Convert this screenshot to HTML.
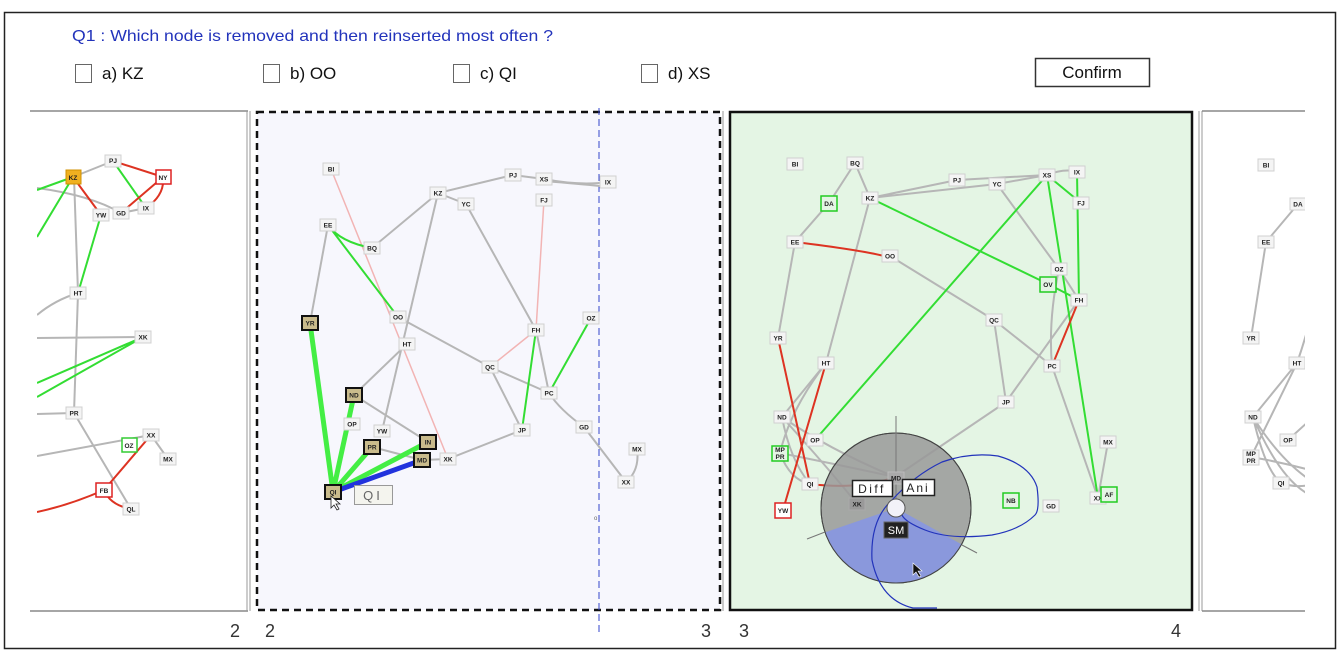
<!DOCTYPE html>
<html><head><meta charset="utf-8">
<style>
html,body{margin:0;padding:0;background:#fff;}
svg{display:block;font-family:"Liberation Sans",sans-serif;}
.n rect{fill:#f4f4f4;stroke:#d0d0d0;stroke-width:1}
.n text{font-size:6.5px;font-weight:bold;text-anchor:middle;fill:#222}
.h rect{fill:#c9bb8c;stroke:#111;stroke-width:2}
.h text{font-size:6.5px;font-weight:bold;text-anchor:middle;fill:#222}
.g{stroke:#b6b6b6;stroke-width:2;fill:none}
.gr{stroke:#33dd33;stroke-width:2;fill:none}
.rd{stroke:#dd3322;stroke-width:2;fill:none}
.pk{stroke:#f2b4b4;stroke-width:1.5;fill:none}
.lbl{font-size:18px;fill:#333}
</style></head><body>
<svg width="1337" height="655" viewBox="0 0 1337 655">
<defs>
<clipPath id="cl"><rect x="37" y="112" width="210" height="498"/></clipPath>
<clipPath id="cr"><rect x="1201" y="112" width="104" height="498"/></clipPath>
</defs>
<rect x="4.5" y="12.5" width="1331" height="636" fill="#fff" stroke="#222" stroke-width="1.5"/>

<!-- header -->
<text x="72" y="41" font-size="16" fill="#2233bb" textLength="481" lengthAdjust="spacingAndGlyphs">Q1 : Which node is removed and then reinserted most often ?</text>
<g font-size="17" fill="#111">
<rect x="75.5" y="64.5" width="16" height="18" fill="#fff" stroke="#666"/><text x="102" y="79">a) KZ</text>
<rect x="263.5" y="64.5" width="16" height="18" fill="#fff" stroke="#666"/><text x="290" y="79">b) OO</text>
<rect x="453.5" y="64.5" width="16" height="18" fill="#fff" stroke="#666"/><text x="480" y="79">c) QI</text>
<rect x="641.5" y="64.5" width="16" height="18" fill="#fff" stroke="#666"/><text x="668" y="79">d) XS</text>
<rect x="1035.5" y="58.5" width="114" height="28" fill="#fff" stroke="#333" stroke-width="1.5"/><text x="1092" y="78" text-anchor="middle">Confirm</text>
</g>

<!-- panel frames -->
<line x1="30" y1="111" x2="248" y2="111" stroke="#888" stroke-width="1.5"/>
<line x1="30" y1="611" x2="248" y2="611" stroke="#888" stroke-width="1.5"/>
<line x1="247" y1="111" x2="247" y2="611" stroke="#999" stroke-width="1"/>
<line x1="250" y1="111" x2="250" y2="611" stroke="#999" stroke-width="1"/>
<rect x="257" y="112" width="463" height="498" fill="#f7f7fd" stroke="#111" stroke-width="2.5" stroke-dasharray="7,5"/>
<line x1="723" y1="111" x2="723" y2="611" stroke="#999" stroke-width="1"/>
<rect x="730" y="112" width="462" height="498" fill="#e4f5e4" stroke="#111" stroke-width="2.5"/>
<line x1="1199" y1="111" x2="1199" y2="611" stroke="#999" stroke-width="1"/>
<line x1="1202" y1="111" x2="1202" y2="611" stroke="#999" stroke-width="1"/>
<line x1="1202" y1="111" x2="1305" y2="111" stroke="#888" stroke-width="1.5"/>
<line x1="1202" y1="611" x2="1305" y2="611" stroke="#888" stroke-width="1.5"/>
<g class="lbl"><text x="230" y="637">2</text><text x="265" y="637">2</text><text x="701" y="637">3</text><text x="739" y="637">3</text><text x="1171" y="637">4</text></g>

<!-- LEFT PANEL -->
<g clip-path="url(#cl)">
<path class="g" d="M37,188 Q90,195 121,213 L146,208"/>
<path class="g" d="M73,177 L113,161"/>
<path class="g" d="M74,177 L78,293 L74,413 L131,509"/>
<path class="g" d="M78,293 Q55,300 37,315"/>
<path class="g" d="M37,338 L143,337"/>
<path class="g" d="M37,414 L74,413"/>
<path class="g" d="M37,456 L151,435 L168,459"/>
<path class="gr" d="M37,190 L73,177 M37,237 L73,177 M101,215 L78,293 M113,161 L146,208 M143,337 L37,383 M143,337 L37,397"/>
<path class="rd" d="M113,161 L163,177 M163,177 L121,213 M163,177 Q165,195 146,208 M73,177 L101,215"/>
<path class="rd" d="M151,435 L104,490 M104,490 Q110,505 131,509 M37,512 Q70,505 104,490"/>
<g class="n">
<g><rect x="66" y="170" width="15" height="14" style="fill:#f0b020;stroke:#d09000"/><text x="73" y="180">KZ</text></g>
<g><rect x="105" y="155" width="16" height="12"/><text x="113" y="163">PJ</text></g>
<g><rect x="156" y="170" width="15" height="14" style="fill:#fff;stroke:#dd2222;stroke-width:1.5"/><text x="163" y="180">NY</text></g>
<g><rect x="93" y="209" width="16" height="12"/><text x="101" y="217.5">YW</text></g>
<g><rect x="113" y="207" width="16" height="12"/><text x="121" y="215.5">GD</text></g>
<g><rect x="138" y="202" width="16" height="12"/><text x="146" y="210.5">IX</text></g>
<g><rect x="70" y="287" width="16" height="12"/><text x="78" y="295.5">HT</text></g>
<g><rect x="135" y="331" width="16" height="12"/><text x="143" y="339.5">XK</text></g>
<g><rect x="66" y="407" width="16" height="12"/><text x="74" y="415.5">PR</text></g>
<g><rect x="143" y="429" width="16" height="12"/><text x="151" y="437.5">XX</text></g>
<g><rect x="122" y="438" width="15" height="14" style="fill:#fff;stroke:#33cc33;stroke-width:1.5"/><text x="129" y="448">OZ</text></g>
<g><rect x="160" y="453" width="16" height="12"/><text x="168" y="461.5">MX</text></g>
<g><rect x="96" y="483" width="16" height="14" style="fill:#fff;stroke:#dd2222;stroke-width:1.5"/><text x="104" y="493">FB</text></g>
<g><rect x="123" y="503" width="16" height="12"/><text x="131" y="511.5">QL</text></g>
</g>
</g>

<!-- MIDDLE PANEL -->
<line x1="599" y1="108" x2="599" y2="632" stroke="#3344cc" stroke-width="1" stroke-dasharray="7,4"/>
<path class="g" d="M328,225 L310,323"/>
<path class="g" d="M372,248 L438,193 L513,175 L544,179 Q580,186 608,182"/>
<path class="g" d="M544,181 Q580,184 600,186"/>
<path class="g" d="M438,193 L382,431"/>
<path class="g" d="M438,193 L466,204 L536,330 L549,393 Q560,410 584,427 L626,482 Q640,470 637,449"/>
<path class="g" d="M398,317 L490,367 L549,393 M490,367 L522,430 L448,459 L422,460"/>
<path class="g" d="M407,344 L354,395 L428,442 M372,447 L422,460"/>
<path class="pk" d="M331,169 L448,459 M544,200 L536,330 L490,367"/>
<path class="gr" d="M328,225 Q340,242 372,248 M328,225 L398,317 M536,330 L522,430 M591,318 L549,393"/>
<path d="M310,323 L333,492 M354,395 L333,492 M372,447 L333,492 M428,442 L333,492" stroke="#44ee44" stroke-width="5" fill="none"/>
<path d="M422,460 L333,492" stroke="#2233dd" stroke-width="5" fill="none"/>
<g class="n">
<g><rect x="323" y="163" width="16" height="12"/><text x="331" y="171.5">BI</text></g>
<g><rect x="505" y="169" width="16" height="12"/><text x="513" y="177.5">PJ</text></g>
<g><rect x="536" y="173" width="16" height="12"/><text x="544" y="181.5">XS</text></g>
<g><rect x="600" y="176" width="16" height="12"/><text x="608" y="184.5">IX</text></g>
<g><rect x="430" y="187" width="16" height="12"/><text x="438" y="195.5">KZ</text></g>
<g><rect x="458" y="198" width="16" height="12"/><text x="466" y="206.5">YC</text></g>
<g><rect x="536" y="194" width="16" height="12"/><text x="544" y="202.5">FJ</text></g>
<g><rect x="320" y="219" width="16" height="12"/><text x="328" y="227.5">EE</text></g>
<g><rect x="364" y="242" width="16" height="12"/><text x="372" y="250.5">BQ</text></g>
<g><rect x="390" y="311" width="16" height="12"/><text x="398" y="319.5">OO</text></g>
<g><rect x="583" y="312" width="16" height="12"/><text x="591" y="320.5">OZ</text></g>
<g><rect x="399" y="338" width="16" height="12"/><text x="407" y="346.5">HT</text></g>
<g><rect x="528" y="324" width="16" height="12"/><text x="536" y="332.5">FH</text></g>
<g><rect x="482" y="361" width="16" height="12"/><text x="490" y="369.5">QC</text></g>
<g><rect x="541" y="387" width="16" height="12"/><text x="549" y="395.5">PC</text></g>
<g><rect x="344" y="418" width="16" height="12"/><text x="352" y="426.5">OP</text></g>
<g><rect x="374" y="425" width="16" height="12"/><text x="382" y="433.5">YW</text></g>
<g><rect x="514" y="424" width="16" height="12"/><text x="522" y="432.5">JP</text></g>
<g><rect x="576" y="421" width="16" height="12"/><text x="584" y="429.5">GD</text></g>
<g><rect x="440" y="453" width="16" height="12"/><text x="448" y="461.5">XK</text></g>
<g><rect x="629" y="443" width="16" height="12"/><text x="637" y="451.5">MX</text></g>
<g><rect x="618" y="476" width="16" height="12"/><text x="626" y="484.5">XX</text></g>
</g>
<g class="h">
<g><rect x="302" y="316" width="16" height="14"/><text x="310" y="325.5">YR</text></g>
<g><rect x="346" y="388" width="16" height="14"/><text x="354" y="397.5">ND</text></g>
<g><rect x="364" y="440" width="16" height="14"/><text x="372" y="449.5">PR</text></g>
<g><rect x="420" y="435" width="16" height="14"/><text x="428" y="444.5">IN</text></g>
<g><rect x="414" y="453" width="16" height="14"/><text x="422" y="462.5">MD</text></g>
<g><rect x="325" y="485" width="16" height="14"/><text x="333" y="494.5">QI</text></g>
</g>
<rect x="354.5" y="485.5" width="38" height="19" fill="#f4f4ee" stroke="#999"/>
<text x="373" y="500" font-size="13" fill="#666" text-anchor="middle" letter-spacing="3">QI</text>
<path d="M331,496 l0,12 l3,-3 l3,5 l2,-1 l-3,-5 l4,0 z" fill="#fff" stroke="#222" stroke-width="0.8"/>
<text x="594" y="520" font-size="6" fill="#666">o</text>

<!-- RIGHT GREEN PANEL -->
<path class="g" d="M855,163 L829,203 L795,242 L778,338 M855,163 L870,198 L826,363"/>
<path class="g" d="M870,198 L957,180 L1047,175 Q1065,168 1077,172 M870,198 L997,184 L1047,175"/>
<path class="g" d="M997,184 L1059,269 L1079,300 M1059,269 Q1048,320 1052,366 L1098,498 L1108,442"/>
<path class="g" d="M890,256 L994,320 L1052,366 M994,320 L1006,402 L1079,300 M1006,402 L895,477"/>
<path class="g" d="M826,363 L782,417 Q830,450 895,477 M826,363 Q790,410 780,453 M782,417 Q790,460 810,484 M782,417 Q830,470 857,504 M780,453 Q840,465 895,477 M780,453 Q790,480 810,484"/>
<path class="gr" d="M870,198 L1048,284 L1079,300 M1047,175 L815,440 M1047,175 L1098,498 M1047,175 L1081,203 M1077,172 L1079,300"/>
<path class="rd" d="M795,242 Q860,250 884,256 M778,338 L810,484 M826,363 L783,510 M1079,300 L1052,366 M810,484 Q860,490 895,477"/>
<g class="n">
<g><rect x="787" y="158" width="16" height="12"/><text x="795" y="166.5">BI</text></g>
<g><rect x="847" y="157" width="16" height="12"/><text x="855" y="165.5">BQ</text></g>
<g><rect x="862" y="192" width="16" height="12"/><text x="870" y="200.5">KZ</text></g>
<g><rect x="949" y="174" width="16" height="12"/><text x="957" y="182.5">PJ</text></g>
<g><rect x="989" y="178" width="16" height="12"/><text x="997" y="186.5">YC</text></g>
<g><rect x="1039" y="169" width="16" height="12"/><text x="1047" y="177.5">XS</text></g>
<g><rect x="1069" y="166" width="16" height="12"/><text x="1077" y="174.5">IX</text></g>
<g><rect x="1073" y="197" width="16" height="12"/><text x="1081" y="205.5">FJ</text></g>
<g><rect x="787" y="236" width="16" height="12"/><text x="795" y="244.5">EE</text></g>
<g><rect x="882" y="250" width="16" height="12"/><text x="890" y="258.5">OO</text></g>
<g><rect x="1051" y="263" width="16" height="12"/><text x="1059" y="271.5">OZ</text></g>
<g><rect x="1071" y="294" width="16" height="12"/><text x="1079" y="302.5">FH</text></g>
<g><rect x="986" y="314" width="16" height="12"/><text x="994" y="322.5">QC</text></g>
<g><rect x="770" y="332" width="16" height="12"/><text x="778" y="340.5">YR</text></g>
<g><rect x="818" y="357" width="16" height="12"/><text x="826" y="365.5">HT</text></g>
<g><rect x="1044" y="360" width="16" height="12"/><text x="1052" y="368.5">PC</text></g>
<g><rect x="998" y="396" width="16" height="12"/><text x="1006" y="404.5">JP</text></g>
<g><rect x="774" y="411" width="16" height="12"/><text x="782" y="419.5">ND</text></g>
<g><rect x="807" y="434" width="16" height="12"/><text x="815" y="442.5">OP</text></g>
<g><rect x="1100" y="436" width="16" height="12"/><text x="1108" y="444.5">MX</text></g>
<g><rect x="802" y="478" width="16" height="12"/><text x="810" y="486.5">QI</text></g>
<g><rect x="1043" y="500" width="16" height="12"/><text x="1051" y="508.5">GD</text></g>
<g><rect x="1090" y="492" width="16" height="12"/><text x="1098" y="500.5">XX</text></g>
<g><rect x="821" y="196" width="16" height="15" style="fill:#e4f5e4;stroke:#22cc22;stroke-width:1.5"/><text x="829" y="206">DA</text></g>
<g><rect x="1040" y="277" width="16" height="15" style="fill:#e4f5e4;stroke:#22cc22;stroke-width:1.5"/><text x="1048" y="287">OV</text></g>
<g><rect x="772" y="446" width="16" height="15" style="fill:#e4f5e4;stroke:#22cc22;stroke-width:1.5"/><text x="780" y="452">MP</text><text x="780" y="459">PR</text></g>
<g><rect x="1003" y="493" width="16" height="15" style="fill:#e4f5e4;stroke:#22cc22;stroke-width:1.5"/><text x="1011" y="503">NB</text></g>
<g><rect x="1101" y="487" width="16" height="15" style="fill:#e4f5e4;stroke:#22cc22;stroke-width:1.5"/><text x="1109" y="497">AF</text></g>
<g><rect x="775" y="503" width="16" height="15" style="fill:#fff;stroke:#dd2222;stroke-width:1.5"/><text x="783" y="513">YW</text></g>
</g>
<!-- circle overlay -->
<circle cx="896" cy="508" r="75" fill="#999" fill-opacity="0.85" stroke="#444" stroke-width="1"/>
<path d="M896,508 L961.6,544.4 A75,75 0 0,1 825.1,532.4 Z" fill="#8a98dc"/>
<circle cx="896" cy="508" r="75" fill="none" stroke="#444" stroke-width="1"/>
<line x1="896" y1="416" x2="896" y2="508" stroke="#777" stroke-width="1"/>
<line x1="807" y1="539" x2="825" y2="532" stroke="#777" stroke-width="1"/>
<line x1="962" y1="545" x2="977" y2="553" stroke="#777" stroke-width="1"/>
<g class="n"><g><rect x="888" y="472" width="16" height="12" style="fill:#aaa;stroke:#bbb"/><text x="896" y="480.5">MD</text></g>
<g><rect x="849" y="498" width="16" height="12" style="fill:#999;stroke:#aaa"/><text x="857" y="506.5">XK</text></g></g>
<path d="M937,608 L913,608 Q880,600 872,560 Q870,520 892,500 Q915,475 942,462 Q970,452 998,456 Q1030,465 1037,487 Q1040,510 1035,515 Q1020,530 992,535 Q950,540 925,530 Q905,522 902,515" fill="none" stroke="#2233bb" stroke-width="1.2"/>
<rect x="852.5" y="480.5" width="40" height="16" fill="#fff" stroke="#222" stroke-width="1.5"/>
<text x="872" y="493" font-size="12" text-anchor="middle" letter-spacing="2.5" fill="#222">Diff</text>
<rect x="902.5" y="479.5" width="32" height="16" fill="#fff" stroke="#222" stroke-width="1.5"/>
<text x="918" y="492" font-size="12" text-anchor="middle" letter-spacing="2" fill="#222">Ani</text>
<circle cx="896" cy="508" r="9" fill="#f2f2f8" stroke="#555" stroke-width="1"/>
<rect x="884" y="522" width="24" height="16" fill="#222" stroke="#666"/>
<text x="896" y="534" font-size="11" text-anchor="middle" fill="#fff">SM</text>
<path d="M913,563 l0,12 l3,-3 l3,5 l2,-1 l-3,-5 l4,0 z" fill="#111" stroke="#fff" stroke-width="0.6"/>

<!-- FAR RIGHT PANEL -->
<g clip-path="url(#cr)">
<path class="g" d="M1298,204 L1266,242 L1251,338 M1297,363 L1253,417 M1297,363 L1251,457 M1297,363 Q1305,340 1310,320 M1288,440 L1310,420 M1253,417 Q1280,460 1310,480 M1253,417 Q1265,470 1281,483 Q1295,488 1310,485 M1251,457 Q1280,462 1310,470 M1253,417 Q1280,480 1310,495"/>
<g class="n">
<g><rect x="1258" y="159" width="16" height="12"/><text x="1266" y="167.5">BI</text></g>
<g><rect x="1290" y="198" width="16" height="12"/><text x="1298" y="206.5">DA</text></g>
<g><rect x="1258" y="236" width="16" height="12"/><text x="1266" y="244.5">EE</text></g>
<g><rect x="1243" y="332" width="16" height="12"/><text x="1251" y="340.5">YR</text></g>
<g><rect x="1289" y="357" width="16" height="12"/><text x="1297" y="365.5">HT</text></g>
<g><rect x="1245" y="411" width="16" height="12"/><text x="1253" y="419.5">ND</text></g>
<g><rect x="1280" y="434" width="16" height="12"/><text x="1288" y="442.5">OP</text></g>
<g><rect x="1243" y="450" width="16" height="15"/><text x="1251" y="456">MP</text><text x="1251" y="463">PR</text></g>
<g><rect x="1273" y="477" width="16" height="12"/><text x="1281" y="485.5">QI</text></g>
</g>
</g>
</svg>
</body></html>
